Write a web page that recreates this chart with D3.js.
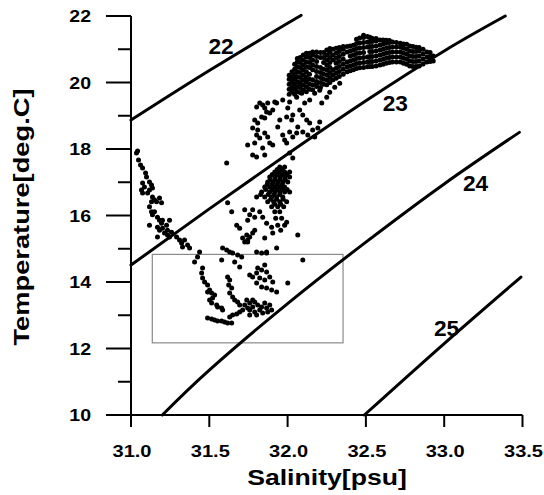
<!DOCTYPE html>
<html>
<head>
<meta charset="utf-8">
<script src="https://cdn.jsdelivr.net/npm/d3@7"></script>
<style>
  body { margin: 0; background: #fff; }
  text { font-family: Arial, "Liberation Sans", Helvetica, sans-serif; font-weight: bold; fill: #000; }
</style>
</head>
<body>
<div id="chart"></div>
<script>

// axis ticks
var salinityTicks = [31.0, 31.5, 32.0, 32.5, 33.0, 33.5];
var temperatureTicks = [10, 12, 14, 16, 18, 20, 22];
var temperatureMinor = [11, 13, 15, 17, 19, 21];

// sigma-t isopycnals [salinity, temperature]
var sigmaLabels = ["22", "23", "24", "25"];
var sigma22 = [[31.0, 18.87], [31.5, 20.36], [32.0, 21.78], [32.08, 22.0]];
var sigma23 = [[31.0, 14.51], [31.5, 16.2], [32.0, 17.85], [32.5, 19.45], [33.0, 20.95], [33.39, 22.0]];
var sigma24 = [[31.2, 10.0], [31.5, 11.35], [32.0, 13.35], [32.5, 15.2], [33.0, 16.95], [33.48, 18.5]];
var sigma25 = [[32.49, 10.0], [33.0, 12.15], [33.49, 14.15]];
var sigmaLabelAt = [[31.575, 21.11], [32.688, 19.37], [33.2, 16.99], [33.015, 12.62]];

// rectangle marked on the diagram
var boxSalinity = [31.136, 32.354];
var boxTemperature = [12.17, 14.83];

// observations [salinity, temperature]
var coastalBranch = [
  [31.035,17.88],[31.042,17.94],[31.048,17.67],[31.061,17.52],[31.074,17.43],[31.093,17.28],[31.099,17.16],
  [31.074,16.98],[31.086,16.86],[31.067,16.77],[31.074,16.68],[31.118,17.01],[31.131,16.92],[31.137,16.83],
  [31.118,16.77],[31.106,16.68],[31.137,16.56],[31.150,16.47],[31.131,16.41],[31.163,16.41],[31.182,16.53],
  [31.195,16.38],[31.118,16.26],[31.131,16.11],[31.137,16.02],[31.150,16.11],[31.169,15.95],[31.182,15.86],
  [31.195,15.77],[31.201,15.86],[31.118,15.71],[31.169,15.65],[31.182,15.56],[31.201,15.62],[31.227,15.71],
  [31.233,15.56],[31.246,15.86],[31.214,15.47],[31.233,15.41],[31.259,15.50],[31.246,15.35],[31.169,15.35],
  [31.291,15.35],[31.310,15.26],[31.323,15.17],[31.342,15.26],[31.329,15.05],[31.361,15.11],[31.374,15.02],
  [31.438,14.90]
];
var boxTrail = [
  [31.425,14.75],[31.406,14.60],[31.457,14.42],[31.451,14.27],[31.457,14.12],[31.470,14.00],[31.489,13.91],
  [31.502,13.76],[31.515,13.67],[31.489,13.70],[31.534,13.61],[31.521,13.52],[31.502,13.46],[31.515,13.37],
  [31.547,13.31],[31.553,13.25],[31.579,13.22],[31.585,13.16],
  [31.489,12.92],[31.515,12.89],[31.534,12.86],[31.553,12.83],[31.579,12.83],[31.598,12.80],[31.617,12.77],[31.643,12.77],
  [31.630,12.95],[31.649,13.01],[31.675,13.04],[31.694,13.10],[31.713,13.16],
  [31.726,13.31],[31.745,13.22],[31.758,13.37],[31.758,13.16],[31.777,13.25],[31.790,13.10],[31.790,13.40],
  [31.809,13.31],[31.822,13.16],[31.834,13.25],[31.841,13.07],[31.854,13.37],[31.866,13.22],[31.873,13.10],
  [31.886,13.31],[31.898,13.16],[31.777,13.46],[31.739,13.46],[31.802,13.01],[31.758,13.01],
  [31.617,14.15],[31.630,14.06],[31.624,13.91],[31.643,13.82],[31.630,13.67],[31.649,13.55],[31.662,13.46],
  [31.681,13.40],[31.694,13.31],
  [31.834,14.87],[31.809,14.42],[31.834,14.36],[31.854,14.51],[31.866,14.30],[31.758,14.21],[31.777,14.15],
  [31.802,14.27],[31.822,14.12],[31.854,14.06],[31.886,14.15],[31.905,14.00],[31.802,13.97],[31.834,13.85],
  [31.866,13.82],[31.898,13.76],[31.930,13.70],[32.001,13.97],
  [31.585,15.02],[31.611,14.96],[31.630,14.90],[31.649,14.87],[31.681,14.81],[31.707,14.75],[31.579,14.66],
  [31.662,14.60],[31.694,14.45],[31.866,14.87],[31.745,15.20],[32.097,14.66]
];
var midCluster = [
  [31.726,16.17],[31.758,16.02],[31.790,15.95],[31.745,15.86],[31.822,16.11],[31.841,15.95],[31.866,15.77],
  [31.898,15.65],[31.905,15.47],[31.994,15.80],[32.065,15.41],
  [31.739,15.41],[31.758,15.35],[31.777,15.47],[31.745,15.26],[31.726,15.20],[31.713,15.32],[31.790,15.56],
  [31.854,15.32],[31.930,15.02],[31.866,14.90],[31.802,14.90],
  [31.617,16.38],[31.643,16.11],[31.675,15.71],[31.694,15.62],[31.777,16.17],[31.611,17.58],
  [31.950,17.46],[31.981,17.46],
  [31.918,17.31],[31.950,17.31],[31.981,17.31],[32.013,17.31],
  [31.886,17.16],[31.918,17.16],[31.950,17.16],[31.981,17.16],[32.013,17.16],
  [31.873,17.01],[31.905,17.01],[31.937,17.01],[31.969,17.01],[32.001,17.01],
  [31.854,16.86],[31.886,16.86],[31.918,16.86],[31.950,16.86],[31.981,16.86],
  [31.834,16.71],[31.886,16.71],[31.918,16.71],[31.950,16.71],[31.981,16.71],[32.013,16.71],
  [31.802,16.56],[31.854,16.56],[31.898,16.56],[31.930,16.56],[31.969,16.56],
  [31.873,16.41],[31.911,16.41],[31.950,16.41],[31.994,16.41],
  [31.898,16.26],[31.937,16.26],[31.975,16.26],
  [31.918,16.11],[31.950,16.11],
  [31.924,15.92],[31.962,15.92],
  [31.937,15.71],[31.981,15.71],
  [31.956,15.56],
  [31.966,17.385],[31.934,17.385],[31.997,17.235],[31.902,17.235],[31.934,17.235],[31.966,17.235],
  [31.889,17.085],[31.921,17.085],[31.953,17.085],[31.985,17.085],
  [31.870,16.935],[31.902,16.935],[31.934,16.935],[31.966,16.935],
  [31.860,16.785],[31.902,16.785],[31.934,16.785],[31.966,16.785],[31.997,16.785],
  [31.828,16.635],[31.876,16.635],[31.914,16.635],[31.950,16.635],
  [31.892,16.485],[31.930,16.485],[31.972,16.485],
  [31.918,16.335],[31.956,16.335]
];
var upperScatter = [
  [31.745,18.12],[31.777,17.82],[31.802,17.76],[31.854,17.82],[31.886,18.18],[31.905,18.12],[31.994,18.18],
  [32.013,17.88],[32.033,17.73],
  [31.802,19.26],[31.822,19.38],[31.841,19.32],[31.854,19.23],[31.873,19.38],[31.866,19.11],[31.886,19.08],
  [31.905,19.17],[31.834,18.96],[31.854,18.93],[31.809,18.78],[31.790,18.87],[31.777,18.63],[31.809,18.57],
  [31.802,18.42],[31.822,18.33],[31.854,18.48],[31.873,18.36],[31.841,18.03],[31.790,18.18],[31.918,19.41],
  [31.930,19.38],[31.937,18.66],[31.950,18.87],[31.969,18.42],[31.981,18.27],[32.013,18.51],[32.033,18.36],
  [32.058,18.48],[32.065,18.66],[32.026,18.87],[32.033,19.02],[31.994,18.96],[32.001,19.23],[32.013,19.41],
  [31.969,19.47],[32.077,19.17],[32.097,19.02],[32.122,18.87],[32.141,18.78],[32.160,18.57],[32.097,18.51],
  [32.129,18.42],[32.173,18.36],[32.193,18.63],[32.205,18.81],[32.109,19.38],[32.141,19.47],[32.058,19.56],
  [32.090,19.68],[32.026,19.77],[32.058,19.86],[32.077,19.98],[32.109,20.08],[32.033,20.14],[32.173,19.68],
  [32.205,19.77],[32.186,19.98],[32.218,19.38],[32.250,19.56],[32.269,19.71],[32.301,19.86],[32.333,19.98]
];
// dense surface water: one salinity per column, temperatures listed for each
var blobSalinity = [32.01, 32.028, 32.045, 32.062, 32.08, 32.10, 32.12, 32.14, 32.16, 32.185, 32.21, 32.23,
  32.25, 32.27, 32.29, 32.31, 32.33, 32.355, 32.38, 32.40, 32.42, 32.44, 32.46, 32.485, 32.51, 32.525,
  32.54, 32.565, 32.59, 32.61, 32.63, 32.65, 32.67, 32.695, 32.72, 32.74, 32.76, 32.78, 32.80, 32.82,
  32.84, 32.865, 32.89, 32.91, 32.93];
var blobTemperature = [
  [19.65, 19.8, 19.95, 20.1, 20.22],
  [19.72, 19.87, 20.02, 20.17, 20.32],
  [19.65, 19.8, 19.95, 20.1, 20.25, 20.4, 20.55],
  [19.72, 19.87, 20.02, 20.17, 20.32, 20.47, 20.62, 20.72],
  [19.7, 19.85, 20.0, 20.15, 20.3, 20.45, 20.6, 20.75],
  [19.78, 19.93, 20.08, 20.23, 20.38, 20.53, 20.68, 20.83],
  [19.72, 19.87, 20.02, 20.17, 20.32, 20.47, 20.62, 20.77, 20.88],
  [19.8, 19.95, 20.1, 20.25, 20.45, 20.6, 20.75, 20.88],
  [19.78, 19.93, 20.08, 20.38, 20.53, 20.68, 20.83, 20.92],
  [19.88, 20.03, 20.18, 20.33, 20.48, 20.63, 20.78, 20.92],
  [19.85, 20.0, 20.15, 20.3, 20.45, 20.75, 20.9],
  [19.95, 20.1, 20.25, 20.4, 20.6, 20.75, 20.9],
  [19.93, 20.08, 20.23, 20.38, 20.53, 20.68, 20.83, 20.98],
  [20.0, 20.15, 20.3, 20.45, 20.6, 20.75, 20.9, 21.02],
  [20.08, 20.23, 20.38, 20.68, 20.83, 21.0],
  [20.13, 20.28, 20.43, 20.58, 20.73, 20.88, 21.03],
  [20.18, 20.33, 20.48, 20.63, 20.78, 20.93, 21.05],
  [20.25, 20.4, 20.55, 20.7, 20.85, 21.0, 21.08],
  [20.32, 20.47, 20.62, 20.92, 21.08],
  [20.35, 20.5, 20.65, 20.8, 20.95, 21.1],
  [20.38, 20.53, 20.68, 20.83, 20.98, 21.12],
  [20.42, 20.57, 20.72, 20.87, 21.02, 21.17, 21.3],
  [20.44, 20.59, 20.74, 20.89, 21.04, 21.19, 21.34],
  [20.45, 20.6, 20.75, 20.9, 21.05, 21.2, 21.35, 21.42],
  [20.47, 20.62, 20.77, 21.07, 21.22, 21.38],
  [20.48, 20.63, 20.78, 20.93, 21.08, 21.23, 21.36],
  [20.48, 20.63, 20.78, 20.93, 21.08, 21.23, 21.33],
  [20.5, 20.65, 20.8, 20.95, 21.1, 21.25, 21.32],
  [20.53, 20.68, 20.83, 20.98, 21.13, 21.28],
  [20.55, 20.7, 20.85, 21.0, 21.15, 21.28],
  [20.58, 20.73, 20.88, 21.03, 21.18, 21.27],
  [20.6, 20.75, 20.9, 21.05, 21.2, 21.26],
  [20.62, 20.77, 20.92, 21.07, 21.22],
  [20.62, 20.77, 20.92, 21.07, 21.2],
  [20.62, 20.77, 20.92, 21.07, 21.18],
  [20.58, 20.73, 20.88, 21.03, 21.16],
  [20.55, 20.7, 20.85, 21.0, 21.15],
  [20.5, 20.65, 20.8, 20.95, 21.1],
  [20.48, 20.63, 20.78, 20.93, 21.08],
  [20.48, 20.63, 20.78, 20.93, 21.06],
  [20.5, 20.65, 20.8, 20.95, 21.05],
  [20.56, 20.71, 20.86, 21.0],
  [20.62, 20.77, 20.92],
  [20.63, 20.78, 20.9],
  [20.65, 20.8]
];

var width = 544, height = 495;

var x = d3.scaleLinear().domain([31.0, 33.5]).range([131, 522.5]);
var y = d3.scaleLinear().domain([10, 22]).range([415, 16]);

var svg = d3.select("#chart")
  .append("svg")
    .attr("width", width)
    .attr("height", height);

svg.append("rect").attr("width", width).attr("height", height).attr("fill", "#fff");

// text is drawn a little wider than the font, as in the original figure
function label(txt, tx, ty, size, sx, anchor, rotate) {
  svg.append("text")
    .attr("transform", "translate(" + tx + "," + ty + ")" + (rotate ? " rotate(-90)" : "") + " scale(" + sx + ",1)")
    .attr("text-anchor", anchor)
    .style("font-size", size + "px")
    .text(txt);
}

// box
svg.append("rect")
  .attr("x", x(boxSalinity[0]))
  .attr("y", y(boxTemperature[1]))
  .attr("width", x(boxSalinity[1]) - x(boxSalinity[0]))
  .attr("height", y(boxTemperature[0]) - y(boxTemperature[1]))
  .attr("fill", "none")
  .attr("stroke", "#8a8a8a")
  .attr("stroke-width", 1.2);

// isopycnals
var line = d3.line()
  .x(function(d) { return x(d[0]); })
  .y(function(d) { return y(d[1]); })
  .curve(d3.curveNatural);

[sigma22, sigma23, sigma24, sigma25].forEach(function(pts, i) {
  svg.append("path")
    .datum(pts)
    .attr("fill", "none")
    .attr("stroke", "#000")
    .attr("stroke-width", 3)
    .attr("stroke-linecap", "round")
    .attr("d", line);
  label(sigmaLabels[i], x(sigmaLabelAt[i][0]), y(sigmaLabelAt[i][1]) + 8, 22, 1.03, "middle");
});

// observations
var blobPoints = [];
blobSalinity.forEach(function(s, i) {
  blobTemperature[i].forEach(function(t) { blobPoints.push([s, t]); });
});
var points = coastalBranch.concat(boxTrail, midCluster, upperScatter, blobPoints);

svg.append("g")
  .selectAll("circle")
  .data(points)
  .enter()
  .append("circle")
    .attr("cx", function(d) { return x(d[0]); })
    .attr("cy", function(d) { return y(d[1]); })
    .attr("r", 2.5)
    .attr("fill", "#000");

// axes
var axis = svg.append("g").attr("stroke", "#000").attr("stroke-width", 2);
axis.append("line").attr("x1", x(31.0)).attr("x2", x(31.0)).attr("y1", y(22)).attr("y2", y(10) + 12);
axis.append("line").attr("x1", x(31.0)).attr("x2", x(33.5)).attr("y1", y(10)).attr("y2", y(10));

temperatureTicks.forEach(function(t) {
  axis.append("line").attr("x1", x(31.0) - 25).attr("x2", x(31.0)).attr("y1", y(t)).attr("y2", y(t));
  label(t, 91, y(t) + 6, 17, 1.15, "end");
});
temperatureMinor.forEach(function(t) {
  axis.append("line").attr("x1", x(31.0) - 13).attr("x2", x(31.0)).attr("y1", y(t)).attr("y2", y(t));
});
salinityTicks.forEach(function(s) {
  axis.append("line").attr("x1", x(s)).attr("x2", x(s)).attr("y1", y(10)).attr("y2", y(10) + 12);
  label(s.toFixed(1), x(s) + 1, 457, 17, 1.18, "middle");
});

label("Salinity[psu]", 327, 485, 22, 1.21, "middle");
label("Temperature[deg.C]", 29, 217, 22, 1.24, "middle", true);

</script>
</body>
</html>
